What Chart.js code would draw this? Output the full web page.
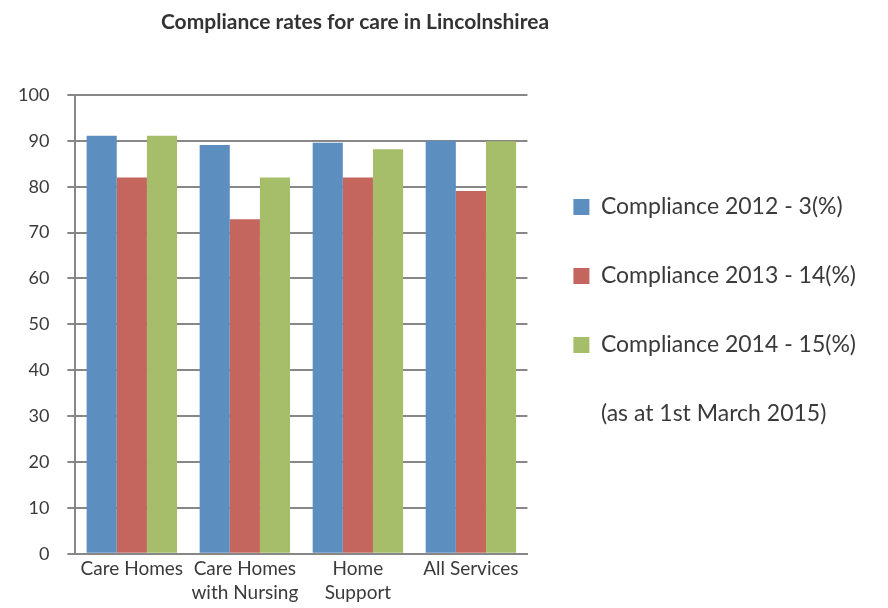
<!DOCTYPE html>
<html>
<head>
<meta charset="utf-8">
<script src="https://cdn.jsdelivr.net/npm/chart.js@4"></script>
<style>
  html, body { margin: 0; padding: 0; background: #fff; }
  #wrap { width: 888px; height: 608px; }
</style>
</head>
<body>
<div id="wrap"><canvas id="complianceChart" width="888" height="608"></canvas></div>
<script>
// ---------- DATA ----------
const categories = [['Care Homes'], ['Care Homes', 'with Nursing'], ['Home', 'Support'], ['All Services']];
const seriesNames = ['Compliance 2012 - 3(%)', 'Compliance 2013 - 14(%)', 'Compliance 2014 - 15(%)'];
const compliance2012 = [91.1, 89.1, 89.6, 90.0];
const compliance2013 = [82.0, 72.9, 82.0, 79.1];
const compliance2014 = [91.1, 82.0, 88.2, 89.9];
const seriesColors = ['#5C8EC0', '#C4665E', '#A6BE6A'];
const yTicks = [0, 10, 20, 30, 40, 50, 60, 70, 80, 90, 100];
const noteText = '(as at 1st March 2015)';
const chartTitle = 'Compliance rates for care in Lincolnshirea';

const FONT = 'Lato, "Liberation Sans", sans-serif';
const TEXT = '#3a3a3a';
const GRID = '#878787';

// ---------- TITLE (drawn over plot, not centred on canvas) ----------
const titlePlugin = {
    id: 'titleText',
    afterDraw(chart) {
        const ctx = chart.ctx;
        ctx.save();
        ctx.font = 'bold 21px ' + FONT;
        ctx.fillStyle = '#333';
        ctx.textAlign = 'center';
        ctx.textBaseline = 'middle';
        ctx.fillText(chartTitle, 355, 22);
        ctx.restore();
    }
};

// ---------- CHART ----------
const ctx = document.getElementById('complianceChart').getContext('2d');

new Chart(ctx, {
    type: 'bar',
    data: {
        labels: categories,
        datasets: [
            { label: seriesNames[0], data: compliance2012, backgroundColor: seriesColors[0] },
            { label: seriesNames[1], data: compliance2013, backgroundColor: seriesColors[1] },
            { label: seriesNames[2], data: compliance2014, backgroundColor: seriesColors[2] }
        ]
    },
    options: {
        responsive: false,
        animation: false,
        layout: { padding: { top: 95, left: 0, right: 22, bottom: 0 } },
        datasets: {
            bar: { categoryPercentage: 0.8, barPercentage: 1.0, borderWidth: 0 }
        },
        scales: {
            x: {
                grid: { display: false, drawTicks: false },
                border: { display: true, color: GRID, width: 2 },
                ticks: {
                    color: TEXT,
                    font: { family: FONT, size: 19, lineHeight: 1.27 },
                    padding: 3,
                    maxRotation: 0,
                    autoSkip: false
                }
            },
            y: {
                min: 0,
                max: 100,
                afterBuildTicks: axis => { axis.ticks = yTicks.map(v => ({ value: v })); },
                grid: { color: GRID, lineWidth: 2, tickLength: 8 },
                border: { display: true, color: GRID, width: 2 },
                ticks: {
                    color: TEXT,
                    font: { family: FONT, size: 18 },
                    padding: 18
                }
            }
        },
        plugins: {
            title: { display: false },
            tooltip: { enabled: false },
            legend: {
                position: 'right',
                align: 'start',
                fullSize: false,
                maxWidth: 420,
                title: { display: true, text: '', font: { size: 12 }, padding: { top: 0, bottom: 40 } },
                labels: {
                    color: TEXT,
                    font: { family: FONT, size: 23 },
                    boxWidth: 16,
                    boxHeight: 16,
                    padding: 46,
                    generateLabels(chart) {
                        const items = Chart.defaults.plugins.legend.labels.generateLabels(chart);
                        items.forEach(it => { it.lineWidth = 0; });
                        items.push({
                            text: noteText,
                            fillStyle: 'rgba(0,0,0,0)',
                            strokeStyle: 'rgba(0,0,0,0)',
                            lineWidth: 0,
                            hidden: false,
                            fontColor: TEXT
                        });
                        return items;
                    }
                }
            }
        }
    },
    plugins: [titlePlugin]
});
</script>
</body>
</html>
